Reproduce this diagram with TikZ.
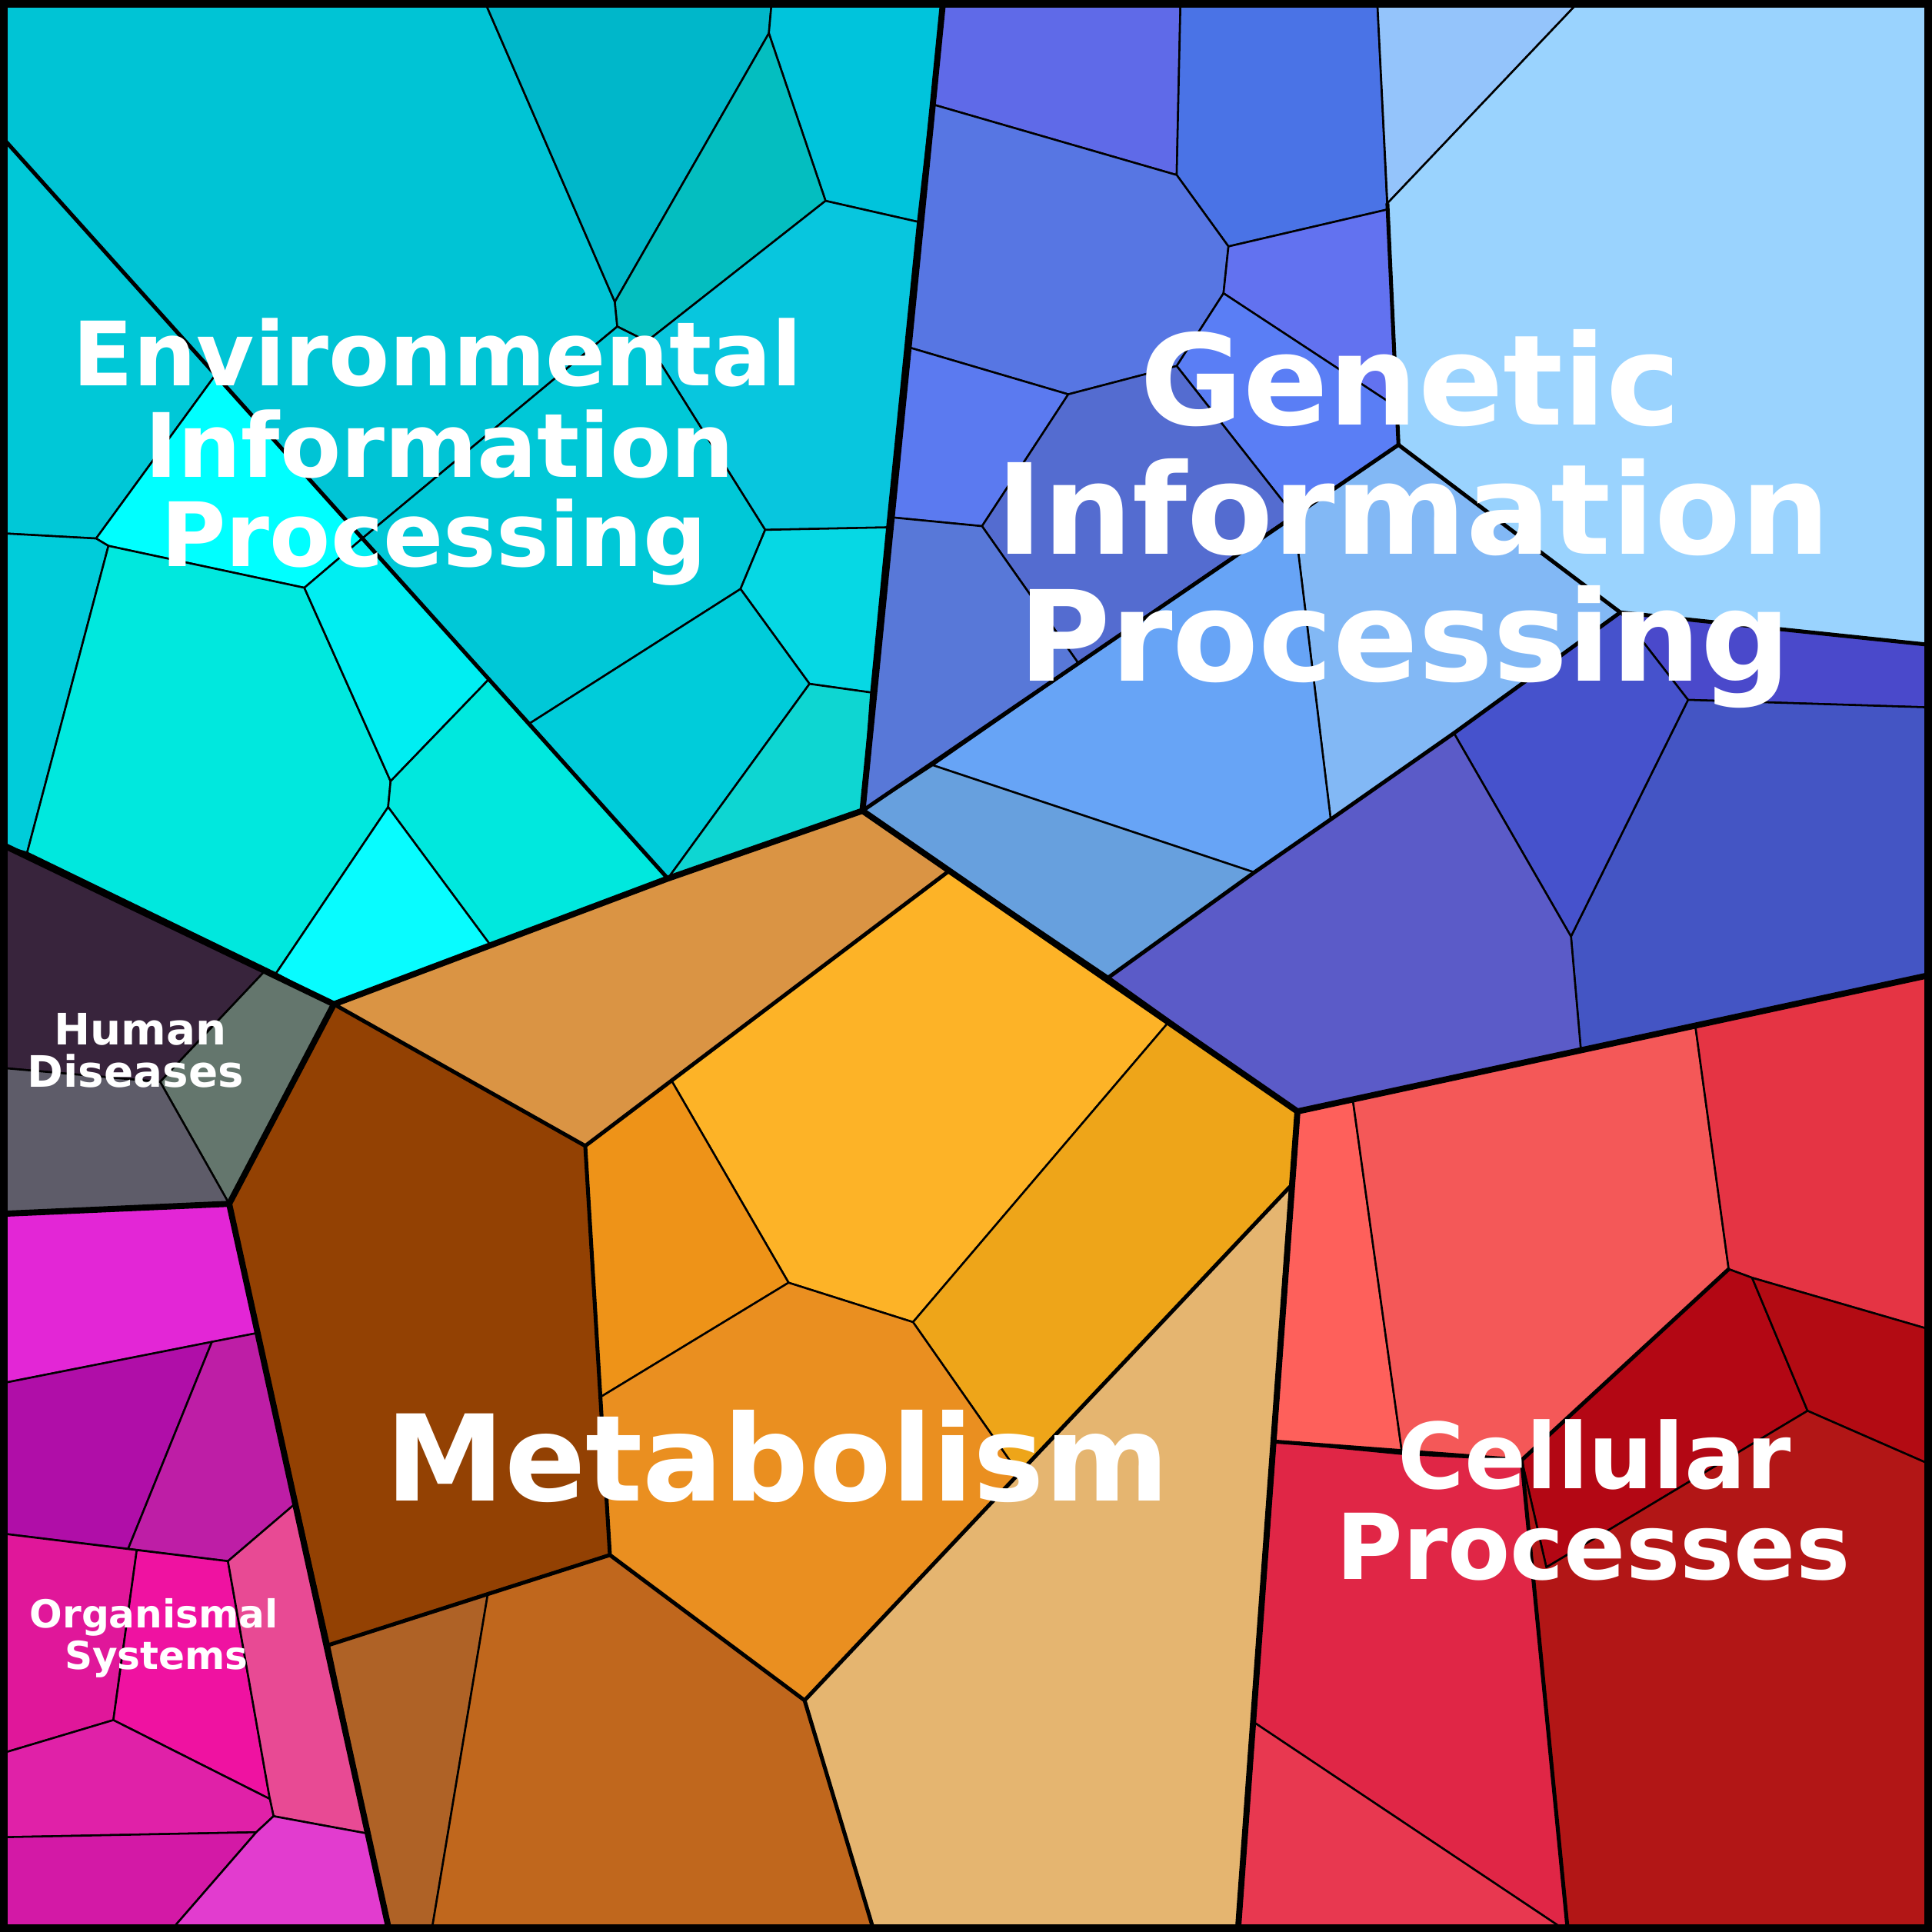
\documentclass[tikz,border=0pt]{standalone}
\usepackage{fontspec}
\setmainfont{DejaVu Sans}
\begin{document}
\begin{tikzpicture}[x=0.01cm,y=-0.01cm,
  cell/.style={draw=black,line width=0.45pt,line join=round},
  mid/.style={draw=black,line width=0.9pt,line join=round},
  grp/.style={draw=black,line width=1.4pt,line join=round},
  lbl/.style={text=white,font=\bfseries,anchor=base,inner sep=0pt}]
\useasboundingbox (0,0) rectangle (1568,1568);
% ---------- Environmental
\fill[cell,fill={rgb,255:red,0;green,196;blue,213}] (5,5)--(395,5)--(499,245)--(501,265)--(294,437)--(5,115)--cycle;
\fill[cell,fill={rgb,255:red,0;green,183;blue,202}] (395,5)--(626,5)--(624,27)--(499,245)--cycle;
\fill[cell,fill={rgb,255:red,0;green,196;blue,220}] (626,5)--(765,5)--(745,180)--(670,163)--(624,27)--cycle;
\fill[cell,fill={rgb,255:red,4;green,190;blue,192}] (499,245)--(624,27)--(670,163)--(525,277)--(501,265)--cycle;
\fill[cell,fill={rgb,255:red,8;green,198;blue,222}] (525,277)--(670,163)--(745,180)--(720,428)--(621,430)--cycle;
\fill[cell,fill={rgb,255:red,0;green,200;blue,215}] (294,437)--(501,265)--(525,277)--(621,430)--(601,478)--(430,587)--cycle;
\fill[cell,fill={rgb,255:red,6;green,216;blue,228}] (601,478)--(621,430)--(720,428)--(707,562)--(657,555)--cycle;
\fill[cell,fill={rgb,255:red,0;green,204;blue,218}] (430,587)--(601,478)--(657,555)--(542,713)--cycle;
\fill[cell,fill={rgb,255:red,14;green,214;blue,210}] (657,555)--(707,562)--(700,658)--(542,713)--cycle;
\fill[cell,fill={rgb,255:red,0;green,200;blue,215}] (5,115)--(175,304)--(78,437)--(5,433)--cycle;
\fill[cell,fill={rgb,255:red,0;green,255;blue,255}] (78,437)--(175,304)--(294,437)--(247,477)--(88,443)--cycle;
\fill[cell,fill={rgb,255:red,0;green,204;blue,218}] (5,433)--(78,437)--(88,443)--(22,692)--(5,687)--cycle;
\fill[cell,fill={rgb,255:red,0;green,232;blue,222}] (88,443)--(247,477)--(317,634)--(315,655)--(224,790)--(22,692)--cycle;
\fill[cell,fill={rgb,255:red,0;green,238;blue,242}] (247,477)--(294,437)--(397,551)--(317,634)--cycle;
\fill[cell,fill={rgb,255:red,0;green,232;blue,222}] (317,634)--(397,551)--(542,713)--(398,767)--(315,655)--cycle;
\fill[cell,fill={rgb,255:red,8;green,252;blue,255}] (315,655)--(398,767)--(271,815)--(224,790)--cycle;
\draw[mid] (5,115)--(542,713);
% ---------- Genetic
\fill[cell,fill={rgb,255:red,95;green,106;blue,232}] (765,5)--(958,5)--(955,142)--(758,85)--cycle;
\fill[cell,fill={rgb,255:red,74;green,115;blue,230}] (958,5)--(1118,5)--(1126,170)--(997,200)--(955,142)--cycle;
\fill[cell,fill={rgb,255:red,87;green,118;blue,227}] (758,85)--(955,142)--(997,200)--(993,238)--(955,297)--(867,320)--(738,282)--cycle;
\fill[cell,fill={rgb,255:red,98;green,114;blue,240}] (997,200)--(1126,170)--(1133,330)--(993,238)--cycle;
\fill[cell,fill={rgb,255:red,90;green,126;blue,245}] (993,238)--(1133,330)--(1135,361)--(1050,418)--(955,297)--cycle;
\fill[cell,fill={rgb,255:red,91;green,122;blue,240}] (738,282)--(867,320)--(797,427)--(725,420)--cycle;
\fill[cell,fill={rgb,255:red,84;green,108;blue,208}] (867,320)--(955,297)--(1050,418)--(875,538)--(797,427)--cycle;
\fill[cell,fill={rgb,255:red,88;green,120;blue,216}] (725,420)--(797,427)--(875,538)--(700,658)--cycle;
\fill[cell,fill={rgb,255:red,148;green,196;blue,251}] (1118,5)--(1278,5)--(1126,165)--cycle;
\fill[cell,fill={rgb,255:red,154;green,211;blue,254}] (1278,5)--(1563,5)--(1563,523)--(1315,497)--(1135,361)--(1133,330)--(1126,165)--cycle;
\fill[cell,fill={rgb,255:red,130;green,184;blue,245}] (1135,361)--(1315,497)--(1180,595)--(1080,665)--(1050,418)--cycle;
\fill[cell,fill={rgb,255:red,103;green,164;blue,246}] (1050,418)--(1080,665)--(1018,708)--(757,621)--cycle;
\fill[cell,fill={rgb,255:red,103;green,160;blue,222}] (700,658)--(757,621)--(1018,708)--(900,793)--cycle;
\fill[cell,fill={rgb,255:red,74;green,73;blue,203}] (1315,497)--(1563,523)--(1563,574)--(1370,568)--cycle;
\fill[cell,fill={rgb,255:red,68;green,85;blue,196}] (1370,568)--(1563,574)--(1563,792)--(1283,852)--(1275,760)--cycle;
\fill[cell,fill={rgb,255:red,70;green,82;blue,204}] (1180,595)--(1315,497)--(1370,568)--(1275,760)--cycle;
\fill[cell,fill={rgb,255:red,91;green,91;blue,200}] (1080,665)--(1180,595)--(1275,760)--(1283,852)--(1053,902)--(900,793)--(1018,708)--cycle;
\draw[mid] (1126,165)--(1135,361)--(700,658);
\draw[mid] (1135,361)--(1315,497)--(1563,523);
\draw[mid] (1315,497)--(1180,595)--(1080,665)--(1018,708)--(900,793);
% ---------- Metabolism
\fill[cell,fill={rgb,255:red,218;green,148;blue,68}] (271,815)--(542,713)--(700,658)--(770,707)--(545,877)--(475,930)--cycle;
\fill[cell,fill={rgb,255:red,253;green,179;blue,39}] (770,707)--(948,830)--(741,1073)--(640,1041)--(545,877)--cycle;
\fill[cell,fill={rgb,255:red,238;green,147;blue,24}] (475,930)--(545,877)--(640,1041)--(487,1134)--cycle;
\fill[cell,fill={rgb,255:red,238;green,165;blue,25}] (948,830)--(1053,902)--(1047,963)--(827,1196)--(741,1073)--cycle;
\fill[cell,fill={rgb,255:red,234;green,143;blue,32}] (487,1134)--(640,1041)--(741,1073)--(827,1196)--(653,1380)--(495,1262)--cycle;
\fill[cell,fill={rgb,255:red,229;green,181;blue,112}] (1047,963)--(1005,1563)--(708,1563)--(653,1380)--cycle;
\fill[cell,fill={rgb,255:red,147;green,65;blue,3}] (271,815)--(475,930)--(495,1262)--(267,1335)--(186,977)--cycle;
\fill[cell,fill={rgb,255:red,175;green,98;blue,38}] (267,1335)--(396,1293)--(351,1563)--(315,1563)--cycle;
\fill[cell,fill={rgb,255:red,192;green,103;blue,29}] (396,1293)--(495,1262)--(653,1380)--(708,1563)--(351,1563)--cycle;
\draw[mid] (271,815)--(475,930)--(545,877)--(770,707);
\draw[mid] (475,930)--(495,1262)--(653,1380)--(1047,963);
\draw[mid] (267,1335)--(495,1262);
\draw[mid] (653,1380)--(708,1563);
% ---------- Human Diseases
\fill[cell,fill={rgb,255:red,56;green,36;blue,60}] (5,687)--(215,788)--(130,878)--(5,867)--cycle;
\fill[cell,fill={rgb,255:red,100;green,118;blue,109}] (215,788)--(271,815)--(186,977)--(130,878)--cycle;
\fill[cell,fill={rgb,255:red,94;green,92;blue,105}] (5,867)--(130,878)--(186,977)--(5,985)--cycle;
% ---------- Organismal Systems
\fill[cell,fill={rgb,255:red,227;green,38;blue,214}] (5,985)--(186,977)--(208,1082)--(5,1122)--cycle;
\fill[cell,fill={rgb,255:red,176;green,14;blue,168}] (5,1122)--(172,1089)--(104,1257)--(5,1245)--cycle;
\fill[cell,fill={rgb,255:red,190;green,30;blue,166}] (172,1089)--(208,1082)--(240,1220)--(185,1267)--(104,1257)--cycle;
\fill[cell,fill={rgb,255:red,224;green,23;blue,154}] (5,1245)--(111,1258)--(92,1396)--(5,1422)--cycle;
\fill[cell,fill={rgb,255:red,239;green,18;blue,161}] (111,1258)--(185,1267)--(219,1460)--(92,1396)--cycle;
\fill[cell,fill={rgb,255:red,232;green,74;blue,148}] (185,1267)--(240,1220)--(298,1488)--(222,1474)--(219,1460)--cycle;
\fill[cell,fill={rgb,255:red,224;green,33;blue,168}] (5,1422)--(92,1396)--(219,1460)--(222,1474)--(208,1487)--(5,1491)--cycle;
\fill[cell,fill={rgb,255:red,211;green,25;blue,166}] (5,1491)--(208,1487)--(142,1563)--(5,1563)--cycle;
\fill[cell,fill={rgb,255:red,226;green,60;blue,207}] (222,1474)--(298,1488)--(315,1563)--(142,1563)--(208,1487)--cycle;
% ---------- Cellular Processes
\fill[cell,fill={rgb,255:red,254;green,96;blue,91}] (1053,902)--(1098,893)--(1138,1180)--(1035,1170)--cycle;
\fill[cell,fill={rgb,255:red,244;green,88;blue,88}] (1098,893)--(1376,833)--(1403,1030)--(1235,1185)--(1138,1180)--cycle;
\fill[cell,fill={rgb,255:red,229;green,52;blue,68}] (1376,833)--(1563,792)--(1563,1078)--(1422,1037)--(1403,1030)--cycle;
\fill[cell,fill={rgb,255:red,179;green,7;blue,20}] (1403,1030)--(1422,1037)--(1467,1145)--(1255,1272)--(1235,1185)--cycle;
\fill[cell,fill={rgb,255:red,179;green,11;blue,19}] (1422,1037)--(1563,1078)--(1563,1187)--(1467,1145)--cycle;
\fill[cell,fill={rgb,255:red,224;green,38;blue,70}] (1035,1170)--(1138,1180)--(1235,1185)--(1272,1563)--(1265,1563)--(1018,1398)--cycle;
\fill[cell,fill={rgb,255:red,232;green,56;blue,80}] (1018,1398)--(1265,1563)--(1005,1563)--cycle;
\fill[cell,fill={rgb,255:red,178;green,22;blue,22}] (1235,1185)--(1255,1272)--(1467,1145)--(1563,1187)--(1563,1563)--(1272,1563)--cycle;
\draw[mid] (1035,1170)--(1235,1185)--(1403,1030);
\draw[mid] (1235,1185)--(1272,1563);
% ---------- group boundaries
\draw[grp] (765,5)--(700,658)--(542,713)--(271,815)--(215,788)--(5,687);
\draw[grp] (700,658)--(1053,902)--(1563,792);
\draw[grp] (1053,902)--(1005,1563);
\draw[grp] (271,815)--(186,977)--(315,1563);
\draw[grp] (5,985)--(186,977);
\draw[line width=1.7pt] (3,3) rectangle (1565,1565);
% ---------- labels
\begin{scope}[lbl/.append style={font=\bfseries\fontsize{20.5pt}{20.5pt}\selectfont}]
\node[lbl] (e1) at (355,313) {Environmental};
\node[lbl] (e2) at (357,387) {Information};
\node[lbl] (e3) at (352,460) {Processing};
\end{scope}
\begin{scope}[lbl/.append style={font=\bfseries\fontsize{29pt}{29pt}\selectfont}]
\node[lbl] (g1) at (1145,345) {Genetic};
\node[lbl] (g2) at (1147,450) {Information};
\node[lbl] (g3) at (1140,553) {Processing};
\end{scope}
\node[lbl,font=\bfseries\fontsize{27.6pt}{27.6pt}\selectfont] (m1) at (631,1218) {Metabolism};
\begin{scope}[lbl/.append style={font=\bfseries\fontsize{21pt}{21pt}\selectfont}]
\node[lbl] (c1) at (1294,1208) {Cellular};
\node[lbl] (c2) at (1293,1282) {Processes};
\end{scope}
\begin{scope}[lbl/.append style={font=\bfseries\fontsize{10pt}{10pt}\selectfont}]
\node[lbl] (h1) at (114,848) {Human};
\node[lbl] (h2) at (110,882) {Diseases};
\end{scope}
\begin{scope}[lbl/.append style={font=\bfseries\fontsize{8.9pt}{8.9pt}\selectfont}]
\node[lbl] (o1) at (125,1321) {Organismal};
\node[lbl] (o2) at (127,1355) {Systems};
\end{scope}
\end{tikzpicture}
\end{document}
